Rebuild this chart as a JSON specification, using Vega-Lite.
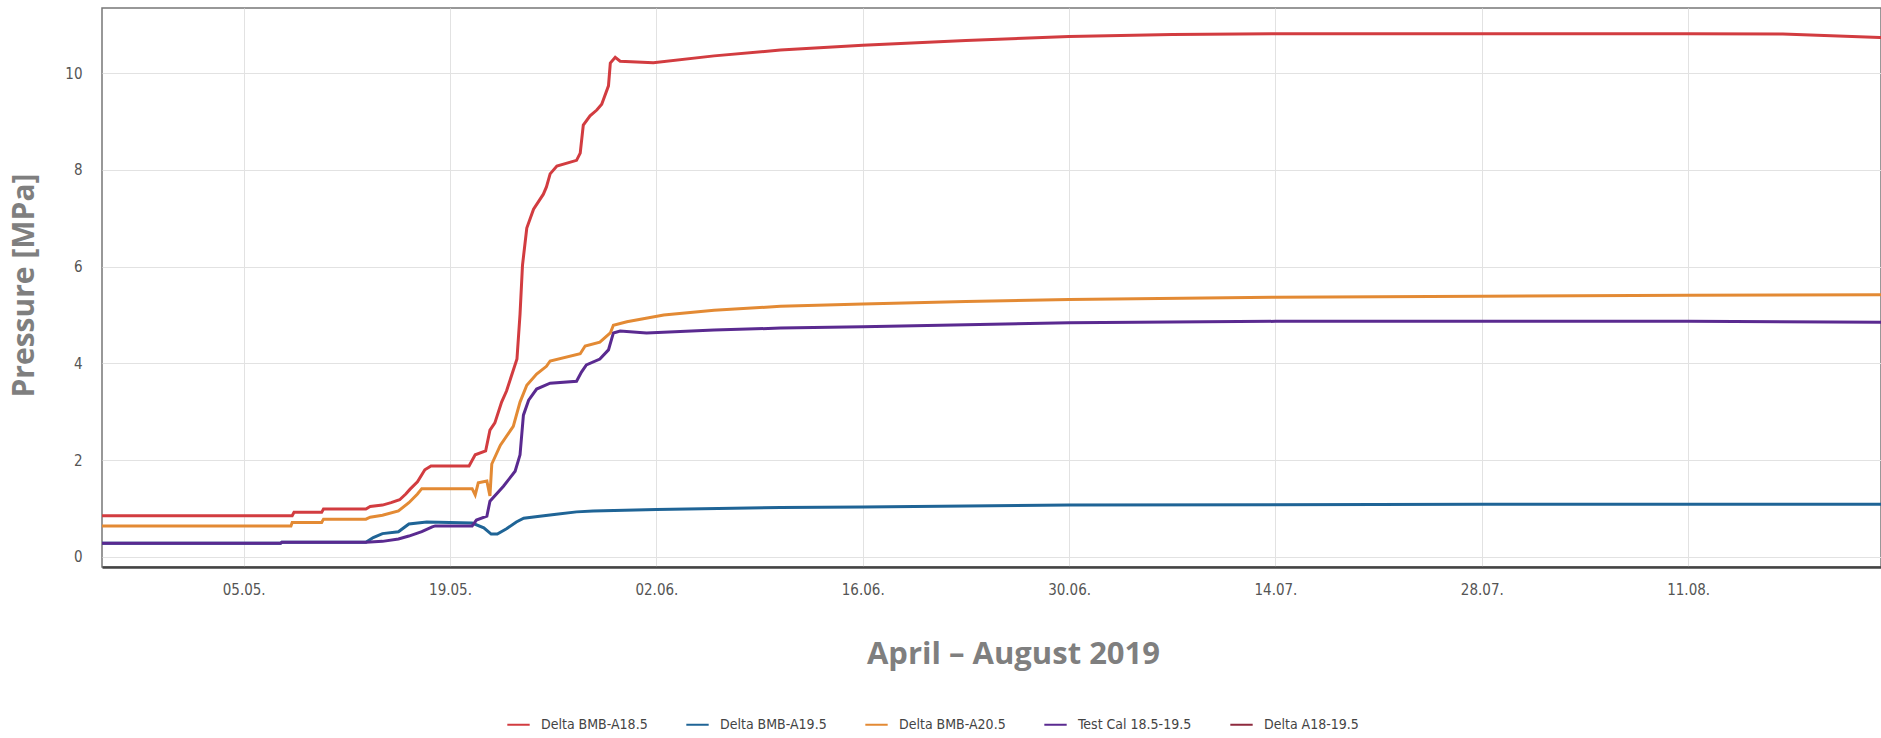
{
  "$schema": "https://vega.github.io/schema/vega-lite/v6.json",
  "width": 1779,
  "height": 559,
  "autosize": {"type": "none"},
  "padding": {"left": 102, "top": 8, "right": 0, "bottom": 171},
  "background": "white",
  "config": {
    "view": {"stroke": "#777", "strokeWidth": 1.5},
    "font": "Liberation Sans Narrow, DejaVu Sans Condensed, Arial, sans-serif"
  },
  "data": {
    "values": [
      {"t":"2019-04-25T00:00","s":"Delta BMB-A19.5","v":0.28},
      {"t":"2019-05-07T12:00","s":"Delta BMB-A19.5","v":0.28},
      {"t":"2019-05-07T14:00","s":"Delta BMB-A19.5","v":0.30},
      {"t":"2019-05-13T07:00","s":"Delta BMB-A19.5","v":0.30},
      {"t":"2019-05-13T19:00","s":"Delta BMB-A19.5","v":0.40},
      {"t":"2019-05-14T10:00","s":"Delta BMB-A19.5","v":0.48},
      {"t":"2019-05-15T12:00","s":"Delta BMB-A19.5","v":0.52},
      {"t":"2019-05-16T05:00","s":"Delta BMB-A19.5","v":0.68},
      {"t":"2019-05-17T10:00","s":"Delta BMB-A19.5","v":0.72},
      {"t":"2019-05-20T12:00","s":"Delta BMB-A19.5","v":0.70},
      {"t":"2019-05-21T07:00","s":"Delta BMB-A19.5","v":0.60},
      {"t":"2019-05-21T19:00","s":"Delta BMB-A19.5","v":0.47},
      {"t":"2019-05-22T05:00","s":"Delta BMB-A19.5","v":0.47},
      {"t":"2019-05-22T20:00","s":"Delta BMB-A19.5","v":0.58},
      {"t":"2019-05-23T12:00","s":"Delta BMB-A19.5","v":0.72},
      {"t":"2019-05-24T00:00","s":"Delta BMB-A19.5","v":0.80},
      {"t":"2019-05-25T02:00","s":"Delta BMB-A19.5","v":0.84},
      {"t":"2019-05-26T05:00","s":"Delta BMB-A19.5","v":0.88},
      {"t":"2019-05-27T14:00","s":"Delta BMB-A19.5","v":0.93},
      {"t":"2019-05-28T17:00","s":"Delta BMB-A19.5","v":0.95},
      {"t":"2019-06-02T00:00","s":"Delta BMB-A19.5","v":0.98},
      {"t":"2019-06-10T10:00","s":"Delta BMB-A19.5","v":1.02},
      {"t":"2019-06-16T00:00","s":"Delta BMB-A19.5","v":1.03},
      {"t":"2019-06-30T00:00","s":"Delta BMB-A19.5","v":1.07},
      {"t":"2019-07-28T00:00","s":"Delta BMB-A19.5","v":1.09},
      {"t":"2019-08-25T00:00","s":"Delta BMB-A19.5","v":1.09},

      {"t":"2019-04-25T00:00","s":"Test Cal 18.5-19.5","v":0.28},
      {"t":"2019-05-07T12:00","s":"Test Cal 18.5-19.5","v":0.28},
      {"t":"2019-05-07T14:00","s":"Test Cal 18.5-19.5","v":0.30},
      {"t":"2019-05-13T07:00","s":"Test Cal 18.5-19.5","v":0.30},
      {"t":"2019-05-14T10:00","s":"Test Cal 18.5-19.5","v":0.32},
      {"t":"2019-05-15T12:00","s":"Test Cal 18.5-19.5","v":0.37},
      {"t":"2019-05-16T05:00","s":"Test Cal 18.5-19.5","v":0.43},
      {"t":"2019-05-17T02:00","s":"Test Cal 18.5-19.5","v":0.52},
      {"t":"2019-05-17T19:00","s":"Test Cal 18.5-19.5","v":0.62},
      {"t":"2019-05-18T00:00","s":"Test Cal 18.5-19.5","v":0.64},
      {"t":"2019-05-20T12:00","s":"Test Cal 18.5-19.5","v":0.64},
      {"t":"2019-05-20T19:00","s":"Test Cal 18.5-19.5","v":0.76},
      {"t":"2019-05-21T12:00","s":"Test Cal 18.5-19.5","v":0.84},
      {"t":"2019-05-21T17:00","s":"Test Cal 18.5-19.5","v":1.15},
      {"t":"2019-05-22T15:00","s":"Test Cal 18.5-19.5","v":1.46},
      {"t":"2019-05-23T10:00","s":"Test Cal 18.5-19.5","v":1.77},
      {"t":"2019-05-23T18:00","s":"Test Cal 18.5-19.5","v":2.11},
      {"t":"2019-05-23T23:30","s":"Test Cal 18.5-19.5","v":2.93},
      {"t":"2019-05-24T08:00","s":"Test Cal 18.5-19.5","v":3.24},
      {"t":"2019-05-24T21:00","s":"Test Cal 18.5-19.5","v":3.47},
      {"t":"2019-05-25T19:00","s":"Test Cal 18.5-19.5","v":3.59},
      {"t":"2019-05-27T14:00","s":"Test Cal 18.5-19.5","v":3.63},
      {"t":"2019-05-27T22:00","s":"Test Cal 18.5-19.5","v":3.82},
      {"t":"2019-05-28T06:00","s":"Test Cal 18.5-19.5","v":3.97},
      {"t":"2019-05-29T04:00","s":"Test Cal 18.5-19.5","v":4.09},
      {"t":"2019-05-29T18:00","s":"Test Cal 18.5-19.5","v":4.28},
      {"t":"2019-05-30T02:00","s":"Test Cal 18.5-19.5","v":4.63},
      {"t":"2019-05-30T13:00","s":"Test Cal 18.5-19.5","v":4.67},
      {"t":"2019-06-01T08:00","s":"Test Cal 18.5-19.5","v":4.63},
      {"t":"2019-06-05T22:00","s":"Test Cal 18.5-19.5","v":4.69},
      {"t":"2019-06-10T10:00","s":"Test Cal 18.5-19.5","v":4.73},
      {"t":"2019-06-16T00:00","s":"Test Cal 18.5-19.5","v":4.76},
      {"t":"2019-06-30T00:00","s":"Test Cal 18.5-19.5","v":4.84},
      {"t":"2019-07-14T00:00","s":"Test Cal 18.5-19.5","v":4.87},
      {"t":"2019-08-11T00:00","s":"Test Cal 18.5-19.5","v":4.87},
      {"t":"2019-08-25T00:00","s":"Test Cal 18.5-19.5","v":4.85},

      {"t":"2019-04-25T00:00","s":"Delta BMB-A20.5","v":0.64},
      {"t":"2019-05-08T05:00","s":"Delta BMB-A20.5","v":0.64},
      {"t":"2019-05-08T07:00","s":"Delta BMB-A20.5","v":0.71},
      {"t":"2019-05-10T07:00","s":"Delta BMB-A20.5","v":0.71},
      {"t":"2019-05-10T10:00","s":"Delta BMB-A20.5","v":0.78},
      {"t":"2019-05-13T07:00","s":"Delta BMB-A20.5","v":0.78},
      {"t":"2019-05-13T14:00","s":"Delta BMB-A20.5","v":0.82},
      {"t":"2019-05-14T10:00","s":"Delta BMB-A20.5","v":0.86},
      {"t":"2019-05-15T12:00","s":"Delta BMB-A20.5","v":0.95},
      {"t":"2019-05-16T05:00","s":"Delta BMB-A20.5","v":1.12},
      {"t":"2019-05-16T19:00","s":"Delta BMB-A20.5","v":1.30},
      {"t":"2019-05-17T02:00","s":"Delta BMB-A20.5","v":1.41},
      {"t":"2019-05-20T12:00","s":"Delta BMB-A20.5","v":1.41},
      {"t":"2019-05-20T17:00","s":"Delta BMB-A20.5","v":1.28},
      {"t":"2019-05-20T22:00","s":"Delta BMB-A20.5","v":1.53},
      {"t":"2019-05-21T12:00","s":"Delta BMB-A20.5","v":1.57},
      {"t":"2019-05-21T17:00","s":"Delta BMB-A20.5","v":1.26},
      {"t":"2019-05-21T20:00","s":"Delta BMB-A20.5","v":1.92},
      {"t":"2019-05-22T10:00","s":"Delta BMB-A20.5","v":2.31},
      {"t":"2019-05-23T07:00","s":"Delta BMB-A20.5","v":2.7},
      {"t":"2019-05-23T18:00","s":"Delta BMB-A20.5","v":3.2},
      {"t":"2019-05-24T05:00","s":"Delta BMB-A20.5","v":3.55},
      {"t":"2019-05-24T21:00","s":"Delta BMB-A20.5","v":3.78},
      {"t":"2019-05-25T13:00","s":"Delta BMB-A20.5","v":3.94},
      {"t":"2019-05-25T19:00","s":"Delta BMB-A20.5","v":4.05},
      {"t":"2019-05-27T20:00","s":"Delta BMB-A20.5","v":4.2},
      {"t":"2019-05-28T04:00","s":"Delta BMB-A20.5","v":4.36},
      {"t":"2019-05-29T04:00","s":"Delta BMB-A20.5","v":4.44},
      {"t":"2019-05-29T21:00","s":"Delta BMB-A20.5","v":4.63},
      {"t":"2019-05-30T02:00","s":"Delta BMB-A20.5","v":4.79},
      {"t":"2019-05-31T00:00","s":"Delta BMB-A20.5","v":4.86},
      {"t":"2019-06-02T12:00","s":"Delta BMB-A20.5","v":5.0},
      {"t":"2019-06-05T22:00","s":"Delta BMB-A20.5","v":5.1},
      {"t":"2019-06-10T10:00","s":"Delta BMB-A20.5","v":5.18},
      {"t":"2019-06-16T00:00","s":"Delta BMB-A20.5","v":5.23},
      {"t":"2019-06-23T00:00","s":"Delta BMB-A20.5","v":5.28},
      {"t":"2019-06-30T00:00","s":"Delta BMB-A20.5","v":5.32},
      {"t":"2019-07-14T00:00","s":"Delta BMB-A20.5","v":5.37},
      {"t":"2019-07-28T00:00","s":"Delta BMB-A20.5","v":5.39},
      {"t":"2019-08-11T00:00","s":"Delta BMB-A20.5","v":5.41},
      {"t":"2019-08-25T00:00","s":"Delta BMB-A20.5","v":5.42},

      {"t":"2019-04-25T00:00","s":"Delta BMB-A18.5","v":0.85},
      {"t":"2019-05-08T07:00","s":"Delta BMB-A18.5","v":0.85},
      {"t":"2019-05-08T10:00","s":"Delta BMB-A18.5","v":0.92},
      {"t":"2019-05-10T07:00","s":"Delta BMB-A18.5","v":0.92},
      {"t":"2019-05-10T10:00","s":"Delta BMB-A18.5","v":0.99},
      {"t":"2019-05-13T07:00","s":"Delta BMB-A18.5","v":0.99},
      {"t":"2019-05-13T14:00","s":"Delta BMB-A18.5","v":1.04},
      {"t":"2019-05-14T10:00","s":"Delta BMB-A18.5","v":1.07},
      {"t":"2019-05-15T00:00","s":"Delta BMB-A18.5","v":1.12},
      {"t":"2019-05-15T14:00","s":"Delta BMB-A18.5","v":1.18},
      {"t":"2019-05-16T00:00","s":"Delta BMB-A18.5","v":1.30},
      {"t":"2019-05-16T07:00","s":"Delta BMB-A18.5","v":1.40},
      {"t":"2019-05-16T19:00","s":"Delta BMB-A18.5","v":1.55},
      {"t":"2019-05-17T07:00","s":"Delta BMB-A18.5","v":1.80},
      {"t":"2019-05-17T17:00","s":"Delta BMB-A18.5","v":1.88},
      {"t":"2019-05-20T07:00","s":"Delta BMB-A18.5","v":1.88},
      {"t":"2019-05-20T17:00","s":"Delta BMB-A18.5","v":2.11},
      {"t":"2019-05-21T10:00","s":"Delta BMB-A18.5","v":2.19},
      {"t":"2019-05-21T17:00","s":"Delta BMB-A18.5","v":2.62},
      {"t":"2019-05-22T01:00","s":"Delta BMB-A18.5","v":2.77},
      {"t":"2019-05-22T12:00","s":"Delta BMB-A18.5","v":3.2},
      {"t":"2019-05-22T20:00","s":"Delta BMB-A18.5","v":3.43},
      {"t":"2019-05-23T07:00","s":"Delta BMB-A18.5","v":3.86},
      {"t":"2019-05-23T13:00","s":"Delta BMB-A18.5","v":4.09},
      {"t":"2019-05-23T18:00","s":"Delta BMB-A18.5","v":5.02},
      {"t":"2019-05-23T22:00","s":"Delta BMB-A18.5","v":6.03},
      {"t":"2019-05-24T05:00","s":"Delta BMB-A18.5","v":6.8},
      {"t":"2019-05-24T16:00","s":"Delta BMB-A18.5","v":7.19},
      {"t":"2019-05-25T08:00","s":"Delta BMB-A18.5","v":7.5},
      {"t":"2019-05-25T13:00","s":"Delta BMB-A18.5","v":7.65},
      {"t":"2019-05-25T19:00","s":"Delta BMB-A18.5","v":7.92},
      {"t":"2019-05-26T06:00","s":"Delta BMB-A18.5","v":8.08},
      {"t":"2019-05-27T14:00","s":"Delta BMB-A18.5","v":8.2},
      {"t":"2019-05-27T20:00","s":"Delta BMB-A18.5","v":8.35},
      {"t":"2019-05-28T01:00","s":"Delta BMB-A18.5","v":8.93},
      {"t":"2019-05-28T12:00","s":"Delta BMB-A18.5","v":9.12},
      {"t":"2019-05-28T23:00","s":"Delta BMB-A18.5","v":9.24},
      {"t":"2019-05-29T07:00","s":"Delta BMB-A18.5","v":9.36},
      {"t":"2019-05-29T18:00","s":"Delta BMB-A18.5","v":9.74},
      {"t":"2019-05-29T21:00","s":"Delta BMB-A18.5","v":10.21},
      {"t":"2019-05-30T05:00","s":"Delta BMB-A18.5","v":10.33},
      {"t":"2019-05-30T13:00","s":"Delta BMB-A18.5","v":10.25},
      {"t":"2019-06-01T19:00","s":"Delta BMB-A18.5","v":10.22},
      {"t":"2019-06-05T22:00","s":"Delta BMB-A18.5","v":10.36},
      {"t":"2019-06-10T10:00","s":"Delta BMB-A18.5","v":10.48},
      {"t":"2019-06-16T00:00","s":"Delta BMB-A18.5","v":10.58},
      {"t":"2019-06-23T00:00","s":"Delta BMB-A18.5","v":10.68},
      {"t":"2019-06-30T00:00","s":"Delta BMB-A18.5","v":10.76},
      {"t":"2019-07-07T00:00","s":"Delta BMB-A18.5","v":10.8},
      {"t":"2019-07-14T00:00","s":"Delta BMB-A18.5","v":10.82},
      {"t":"2019-07-28T00:00","s":"Delta BMB-A18.5","v":10.82},
      {"t":"2019-08-11T00:00","s":"Delta BMB-A18.5","v":10.82},
      {"t":"2019-08-17T10:00","s":"Delta BMB-A18.5","v":10.81},
      {"t":"2019-08-24T00:00","s":"Delta BMB-A18.5","v":10.74},
      {"t":"2019-08-25T00:00","s":"Delta BMB-A18.5","v":10.73}
    ]
  },
  "mark": {"type": "line", "strokeWidth": 3, "clip": true, "interpolate": "linear"},
  "encoding": {
    "x": {
      "field": "t",
      "type": "temporal",
      "scale": {
        "domain": [
          {"year": 2019, "month": "Apr", "date": 25, "hours": 9, "minutes": 20},
          {"year": 2019, "month": "Aug", "date": 24, "hours": 2}
        ],
        "nice": false
      },
      "axis": {
        "values": [
          {"year": 2019, "month": "May", "date": 5},
          {"year": 2019, "month": "May", "date": 19},
          {"year": 2019, "month": "Jun", "date": 2},
          {"year": 2019, "month": "Jun", "date": 16},
          {"year": 2019, "month": "Jun", "date": 30},
          {"year": 2019, "month": "Jul", "date": 14},
          {"year": 2019, "month": "Jul", "date": 28},
          {"year": 2019, "month": "Aug", "date": 11}
        ],
        "format": "%d.%m.",
        "title": "April – August 2019",
        "titleFont": "Open Sans",
        "titleFontWeight": "bold",
        "titleFontSize": 31,
        "titleColor": "#7f7f7f",
        "titleX": 911,
        "titleY": 87,
        "titleAlign": "center",
        "titleBaseline": "middle",
        "labelFontSize": 15,
        "labelColor": "#555",
        "labelPadding": 15,
        "ticks": false,
        "domainColor": "#444",
        "domainWidth": 2.5,
        "grid": true,
        "gridColor": "#e2e2e2",
        "gridWidth": 1
      }
    },
    "y": {
      "field": "v",
      "type": "quantitative",
      "scale": {"domain": [-0.21, 11.35], "nice": false, "zero": false},
      "axis": {
        "values": [0, 2, 4, 6, 8, 10],
        "title": "Pressure [MPa]",
        "titleFont": "Open Sans",
        "titleFontWeight": "bold",
        "titleFontSize": 30,
        "titleColor": "#7f7f7f",
        "titleX": -78,
        "titleY": 277,
        "titleAlign": "center",
        "titleBaseline": "middle",
        "labelFontSize": 15,
        "labelColor": "#555",
        "labelPadding": 20,
        "ticks": false,
        "domain": false,
        "grid": true,
        "gridColor": "#e2e2e2",
        "gridWidth": 1
      }
    },
    "color": {
      "field": "s",
      "type": "nominal",
      "sort": null,
      "scale": {
        "domain": ["Delta BMB-A18.5", "Delta BMB-A19.5", "Delta BMB-A20.5", "Test Cal 18.5-19.5", "Delta A18-19.5"],
        "range": ["#d23c40", "#1f6496", "#e38a34", "#5a2a90", "#8e2a3e"]
      },
      "legend": {
        "title": null,
        "orient": "none",
        "direction": "horizontal",
        "legendX": 404,
        "legendY": 704,
        "symbolType": "stroke",
        "symbolSize": 500,
        "symbolStrokeWidth": 2,
        "labelFontSize": 14,
        "labelColor": "#444",
        "columnPadding": 34,
        "labelOffset": 10
      }
    }
  }
}
